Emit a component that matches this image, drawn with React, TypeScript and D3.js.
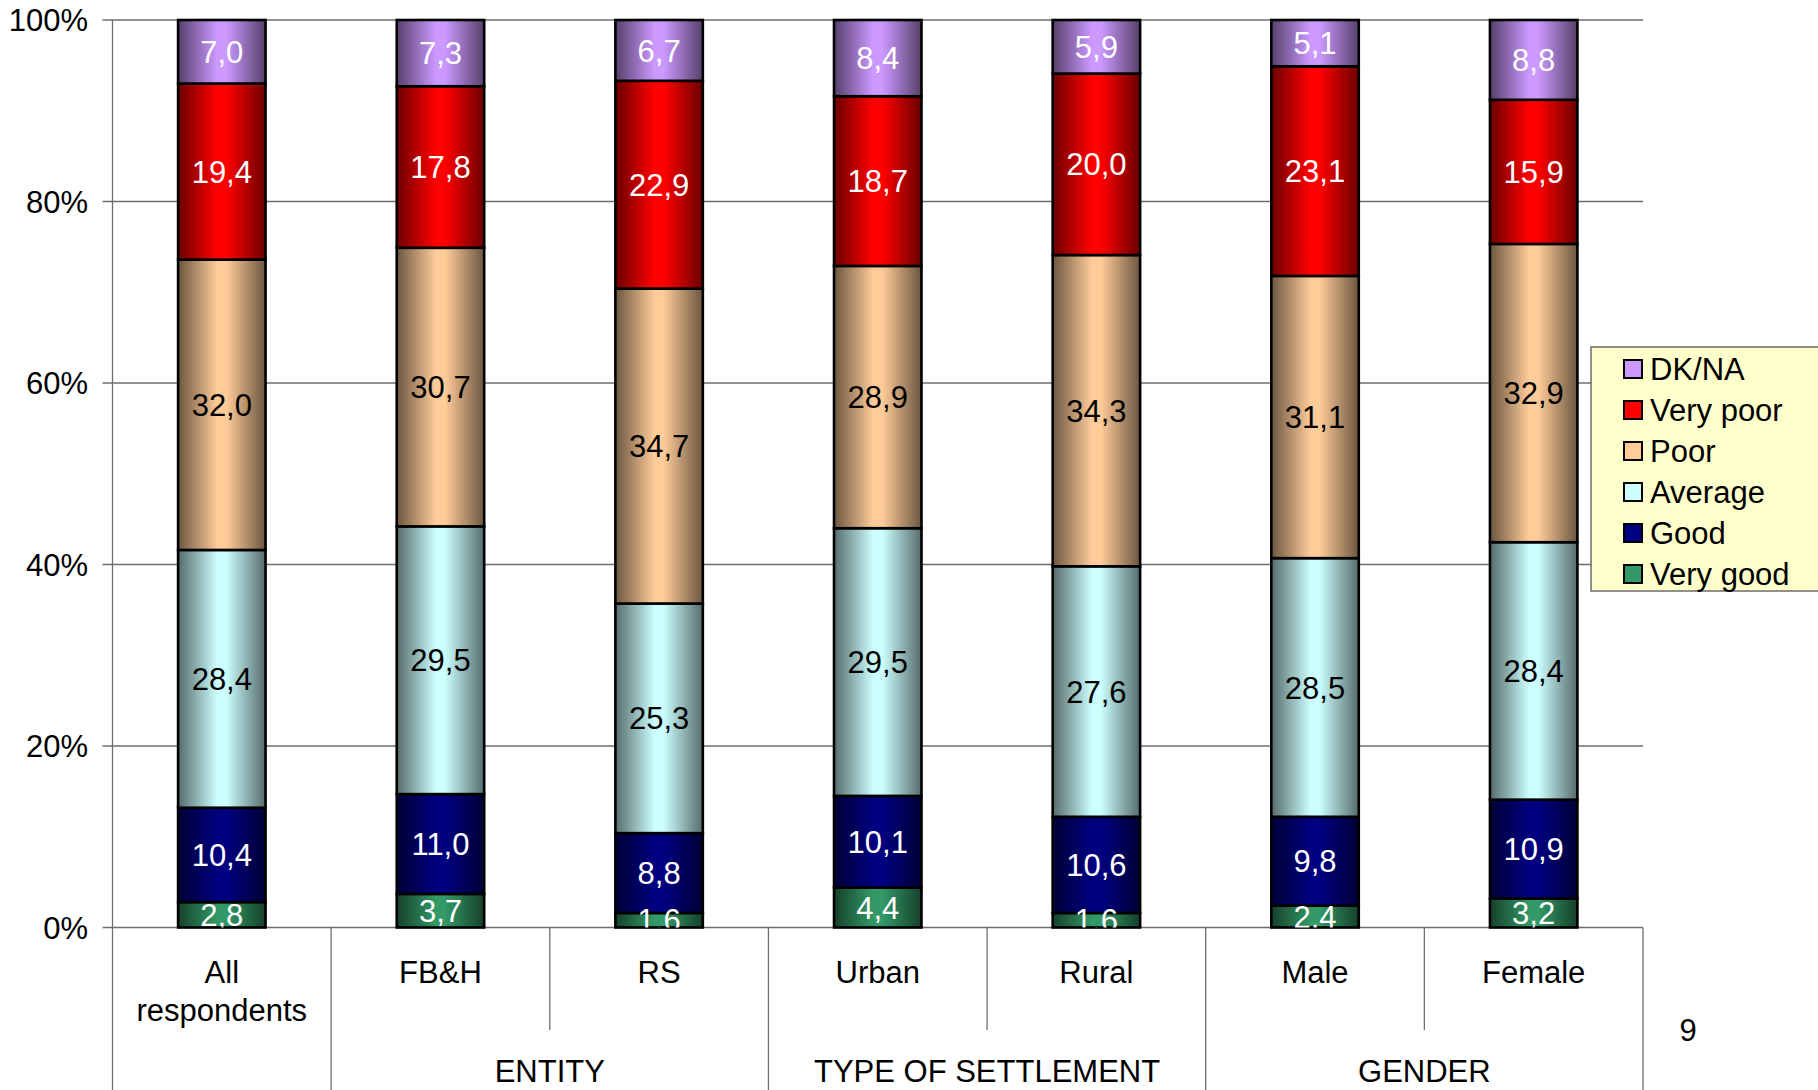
import React from "react";
import * as d3 from "d3";

const categories = ["All respondents", "FB&H", "RS", "Urban", "Rural", "Male", "Female"];
const seriesNames = ["Very good", "Good", "Average", "Poor", "Very poor", "DK/NA"];
const seriesColors = ["#339966", "#000080", "#CCFFFF", "#FFCC99", "#FF0000", "#CC99FF"];
const labelColors = ["#ffffff", "#ffffff", "#000000", "#000000", "#ffffff", "#ffffff"];

const veryGood = [2.8, 3.7, 1.6, 4.4, 1.6, 2.4, 3.2];
const good = [10.4, 11.0, 8.8, 10.1, 10.6, 9.8, 10.9];
const average = [28.4, 29.5, 25.3, 29.5, 27.6, 28.5, 28.4];
const poor = [32.0, 30.7, 34.7, 28.9, 34.3, 31.1, 32.9];
const veryPoor = [19.4, 17.8, 22.9, 18.7, 20.0, 23.1, 15.9];
const dkna = [7.0, 7.3, 6.7, 8.4, 5.9, 5.1, 8.8];

const groups = [
  { label: "ENTITY", from: 1, to: 2 },
  { label: "TYPE OF SETTLEMENT", from: 3, to: 4 },
  { label: "GENDER", from: 5, to: 6 },
];
const yTicks = [0, 0.2, 0.4, 0.6, 0.8, 1.0];
const pageNumber = "9";

const W = 1818, H = 1090;
const left = 112.5, right = 1643, top = 20, bottom = 927.5;
const FONT = "'Liberation Sans', Arial, Helvetica, sans-serif";

function shade(c: string, k: number) {
  const col = d3.rgb(c);
  return d3.rgb(col.r * k, col.g * k, col.b * k).formatHex();
}

export default function App() {
  const allSeries = [veryGood, good, average, poor, veryPoor, dkna];
  const rows = categories.map((c, i) => {
    const r: any = { cat: c };
    seriesNames.forEach((s, j) => (r[s] = allSeries[j][i]));
    return r;
  });
  const stack = d3.stack().keys(seriesNames).offset(d3.stackOffsetExpand);
  const stacked = stack(rows);

  const x = d3.scaleBand().domain(categories).range([left, right]).paddingInner(0.6).paddingOuter(0.3);
  const slot = d3.scaleBand().domain(categories).range([left, right]).padding(0);
  const y = d3.scaleLinear().domain([0, 1]).range([bottom, top]);
  const step = slot.step();
  const bw = x.bandwidth();

  const fmt = (v: number) => v.toFixed(1).replace(".", ",");

  return (
    <svg width={W} height={H} style={{ position: "absolute", left: 0, top: 0, background: "#fff" }} fontFamily={FONT}>
      <defs>
        {seriesColors.map((c, i) => (
          <linearGradient key={i} id={"g" + i} x1="0" x2="1" y1="0" y2="0">
            <stop offset="0%" stopColor={shade(c, 0.42)} />
            <stop offset="45%" stopColor={c} />
            <stop offset="55%" stopColor={c} />
            <stop offset="100%" stopColor={shade(c, 0.42)} />
          </linearGradient>
        ))}
        <clipPath id="plotClip">
          <rect x={0} y={0} width={W} height={bottom} />
        </clipPath>
      </defs>

      {/* gridlines */}
      {yTicks.map((t) => (
        <line key={t} x1={left - 10} x2={right} y1={y(t)} y2={y(t)} stroke="#6e6e6e" strokeWidth={1.3} />
      ))}
      {/* y tick labels */}
      {yTicks.map((t) => (
        <text key={"l" + t} x={88} y={y(t)} dy="0.36em" textAnchor="end" fontSize={31} fill="#000">
          {Math.round(t * 100) + "%"}
        </text>
      ))}
      {/* y axis */}
      <line x1={left} x2={left} y1={top} y2={H} stroke="#6e6e6e" strokeWidth={1.3} />

      {/* category frame */}
      {categories.map((c, i) => {
        const xl = slot(c)! + step;
        const isGroupEnd = i === 0 || groups.some((g) => g.to === i);
        return (
          <line key={"v" + i} x1={xl} x2={xl} y1={bottom} y2={isGroupEnd ? H : 1030} stroke="#6e6e6e" strokeWidth={1.3} />
        );
      })}

      {/* bars */}
      {stacked.map((s, j) => (
        <g key={j}>
          {s.map((d, i) => (
            <rect
              key={i}
              x={x(categories[i])}
              y={y(d[1])}
              width={bw}
              height={y(d[0]) - y(d[1])}
              fill={`url(#g${j})`}
              stroke="#000"
              strokeWidth={2.6}
            />
          ))}
        </g>
      ))}

      {/* labels */}
      <g clipPath="url(#plotClip)">
        {stacked.map((s, j) =>
          s.map((d, i) => (
            <text
              key={j + "-" + i}
              x={x(categories[i])! + bw / 2}
              y={(y(d[0]) + y(d[1])) / 2}
              dy="0.36em"
              textAnchor="middle"
              fontSize={31}
              fill={labelColors[j]}
            >
              {fmt(allSeries[j][i])}
            </text>
          ))
        )}
      </g>

      {/* category labels */}
      {categories.map((c, i) => {
        const cx = slot(c)! + step / 2;
        const lines = c.includes(" ") ? c.split(" ") : [c];
        return (
          <text key={"c" + i} x={cx} y={972} textAnchor="middle" fontSize={31} fill="#000">
            {lines.map((ln, k) => (
              <tspan key={k} x={cx} dy={k === 0 ? "0.36em" : 38}>
                {ln}
              </tspan>
            ))}
          </text>
        );
      })}
      {/* group labels */}
      {groups.map((g) => {
        const x0 = slot(categories[g.from])!;
        const x1 = slot(categories[g.to])! + step;
        return (
          <text key={g.label} x={(x0 + x1) / 2} y={1071} dy="0.36em" textAnchor="middle" fontSize={31} fill="#000">
            {g.label}
          </text>
        );
      })}

      {/* legend */}
      <rect x={1591} y={347} width={240} height={244} fill="#FFFFCC" stroke="#555" strokeWidth={1.3} />
      {seriesNames
        .map((n, i) => ({ n, i }))
        .reverse()
        .map((d, k) => {
          const cy = 369 + k * 41;
          return (
            <g key={d.n}>
              <rect x={1624} y={cy - 9} width={18} height={18} fill={seriesColors[d.i]} stroke="#000" strokeWidth={2} />
              <text x={1650} y={cy} dy="0.36em" fontSize={31} fill="#000">
                {d.n}
              </text>
            </g>
          );
        })}

      <text x={1688} y={1030} dy="0.36em" textAnchor="middle" fontSize={31} fill="#000">
        {pageNumber}
      </text>
    </svg>
  );
}
